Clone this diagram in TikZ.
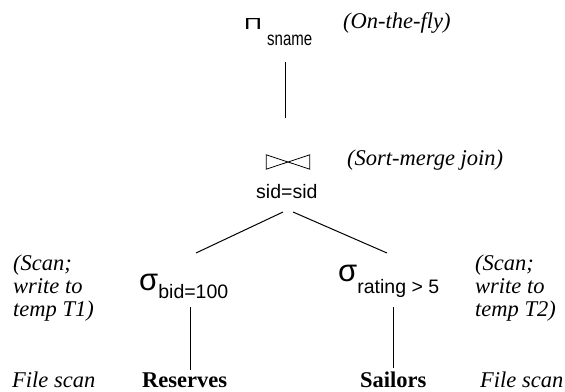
\documentclass[tikz,border=0pt]{standalone}
\usepackage{fontspec}
\setmainfont{Liberation Serif}
\setsansfont{Liberation Sans}
\usetikzlibrary{calc}
\tikzset{
  optxt/.style={font=\sffamily\fontsize{19.5}{23}\selectfont, inner sep=0pt, anchor=base west},
  note/.style={font=\itshape\fontsize{22.5}{23}\selectfont, inner sep=0pt, align=left},
  rel/.style={font=\bfseries\fontsize{22.5}{23}\selectfont, inner sep=0pt, anchor=base west},
  edge/.style={line width=1pt}
}
\newcommand{\sig}{{\sffamily\fontsize{31}{32}\selectfont σ}}
\begin{document}
\begin{tikzpicture}[x=1pt,y=-1pt]
\useasboundingbox (0,0) rectangle (565,391);
% projection
\node[optxt] (proj) at (244,29) {\fontsize{16}{18}\selectfont\scalebox{1.55}[1]{Π}};
\node[optxt] (pattr) at (267,45) {\scalebox{0.77}[1]{sname}};
\node[note, anchor=base west] (fly) at (343,28) {(On-the-fly)};
% join
\node[minimum width=43pt, minimum height=14pt, inner sep=0pt] (join) at (288,162) {};
\draw[line width=0.8pt, line join=miter] (join.north west) -- (join.south east) -- (join.north east) -- (join.south west) -- cycle;
\node[optxt] (cond) at (256,198) {sid=sid};
\node[note, anchor=base west] (smj) at (347,165) {(Sort-merge join)};
% selections
\node[optxt] (selL) at (139,290) {\sig\raisebox{-8pt}{bid=100}};
\node[optxt] (selR) at (338,281) {\sig\raisebox{-12pt}{rating > 5}};
\node[note, anchor=north west] (scanL) at (13,255) {(Scan;\\write to\\temp T1)};
\node[note, anchor=north west] (scanR) at (475,255) {(Scan;\\write to\\temp T2)};
% relations
\node[rel] (resv) at (142,387) {Reserves};
\node[rel] (sail) at (360,387) {Sailors};
\node[note, anchor=base west] (fsL) at (12,387) {File scan};
\node[note, anchor=base west] (fsR) at (480,387) {File scan};
% connectors
\draw[edge] ($(proj.base west)+(41,33)$) -- ($(join.center)+(-3,-44)$);
\draw[edge] ($(cond.base west)+(27,14)$) -- ($(selL.base west)+(57,-37)$);
\draw[edge] ($(cond.base west)+(37,14)$) -- ($(selR.base west)+(49,-28)$);
\draw[edge] ($(selL.base west)+(51,17)$) -- ($(resv.base west)+(48,-17)$);
\draw[edge] ($(selR.base west)+(55,26)$) -- ($(sail.base west)+(33,-19)$);
\end{tikzpicture}
\end{document}
